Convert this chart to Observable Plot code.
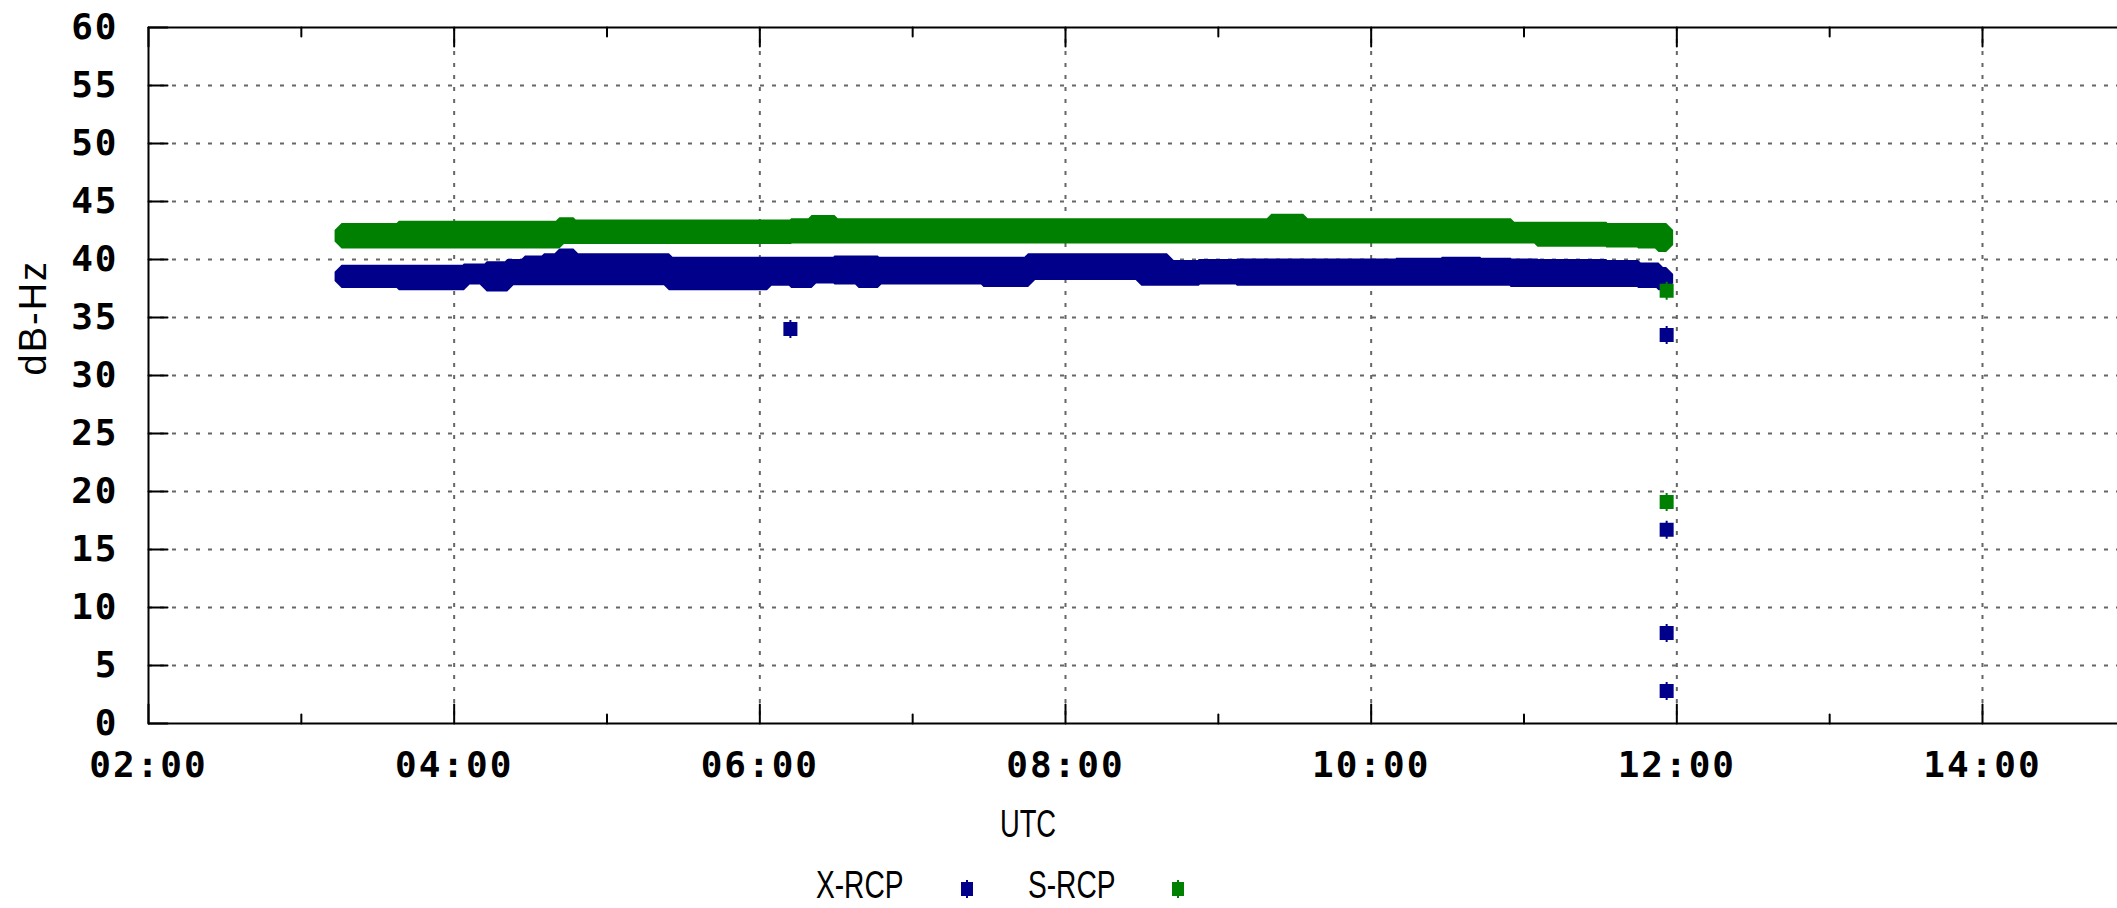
<!DOCTYPE html>
<html><head><meta charset="utf-8">
<script src="https://cdn.jsdelivr.net/npm/d3@7"></script>
<script src="https://cdn.jsdelivr.net/npm/@observablehq/plot@0.6"></script>
<style>
html,body{margin:0;padding:0;background:#fff;overflow:hidden;}
#wrap{position:relative;width:2117px;height:908px;}
#chart svg text{letter-spacing:2px;}
.lbl{position:absolute;font-family:"Liberation Sans",Arial,sans-serif;font-size:38px;line-height:38px;color:#000;white-space:nowrap;}
.sw{position:absolute;}
</style></head><body>
<div id="wrap">
  <div id="chart"></div>
  <div class="lbl" style="left:1028px;top:805px;transform:translateX(-50%) scaleX(0.72);">UTC</div>
  <div class="lbl" style="left:816px;top:866px;transform-origin:left center;transform:scaleX(0.74);">X-RCP</div>
  <svg class="sw" style="left:961px;top:880px" width="12" height="18"><rect x="0" y="2" width="12" height="14" fill="#00008b"/><rect x="5" y="0" width="2" height="18" fill="#00008b"/></svg>
  <div class="lbl" style="left:1028px;top:866px;transform-origin:left center;transform:scaleX(0.74);">S-RCP</div>
  <svg class="sw" style="left:1172px;top:880px" width="12" height="18"><rect x="0" y="2" width="12" height="14" fill="#008000"/><rect x="5" y="0" width="2" height="18" fill="#008000"/></svg>
</div>
<script>
// ---- data ----
const times = ["03:16","03:30","03:47","04:00","04:08","04:18","04:24","04:32","04:39","04:44","04:50","05:00","05:18","05:31","05:45","05:58","06:08","06:17","06:24","06:35","06:43","06:50","07:05","07:20","07:36","07:55","08:10","08:25","08:35","08:45","09:00","09:15","09:27","09:40","10:00","10:20","10:36","10:50","11:00","11:11","11:25","11:40","11:50","11:56"];
// X-RCP band: lowest / highest readings
const xLo = [38.1,38.1,37.9,37.9,38.4,37.8,38.35,38.35,38.35,38.35,38.35,38.35,38.35,37.9,37.9,37.9,38.3,38.1,38.5,38.4,38.1,38.4,38.4,38.4,38.2,38.8,38.8,38.8,38.3,38.3,38.4,38.3,38.3,38.3,38.3,38.3,38.3,38.3,38.2,38.2,38.2,38.2,38.1,37.9];
const xHi = [38.9,38.9,38.9,38.9,39.0,39.2,39.4,39.7,39.9,40.3,39.9,39.9,39.9,39.6,39.6,39.6,39.6,39.6,39.6,39.7,39.7,39.6,39.6,39.6,39.6,39.9,39.9,39.9,39.9,39.3,39.4,39.45,39.45,39.45,39.45,39.5,39.6,39.5,39.45,39.4,39.4,39.3,39.1,38.7];
// S-RCP band: lowest / highest readings
const sLo = [41.5,41.5,41.5,41.5,41.5,41.5,41.5,41.5,41.5,41.9,41.9,41.9,41.9,41.9,41.9,41.9,41.9,41.95,41.95,41.95,41.95,41.95,41.95,41.95,41.95,41.95,41.95,41.95,41.95,41.95,41.95,41.95,41.95,41.95,41.95,41.95,41.95,41.95,41.95,41.65,41.65,41.6,41.5,41.2];
const sHi = [42.5,42.5,42.7,42.7,42.7,42.7,42.7,42.7,42.7,43.0,42.8,42.8,42.8,42.8,42.8,42.8,42.8,42.9,43.2,42.9,42.9,42.9,42.9,42.9,42.9,42.9,42.9,42.9,42.9,42.9,42.9,42.9,43.3,42.9,42.9,42.9,42.9,42.9,42.6,42.6,42.6,42.5,42.5,42.5];
// isolated readings
const xOutT = ["06:12","11:56","11:56","11:56","11:56"];
const xOutV = [34.0,33.5,16.7,7.8,2.8];
const sOutT = ["11:56","11:56"];
const sOutV = [37.3,19.1];
// axes
const yTicks = [0,5,10,15,20,25,30,35,40,45,50,55,60];
const yGrid = [5,10,15,20,25,30,35,40,45,50,55];
const xTickLabels = ["02:00","04:00","06:00","08:00","10:00","12:00","14:00"];
const xGridLabels = ["04:00","06:00","08:00","10:00","12:00","14:00"];
const xMinorLabels = ["03:00","05:00","07:00","09:00","11:00","13:00"];
const xDomainLabels = ["02:00","14:53"];
const colors = {"X-RCP": "#00008b", "S-RCP": "#008000"};

const T = s => { const [h, m] = s.split(":").map(Number); return new Date(Date.UTC(2000, 0, 1, h, m)); };
const band = times.map((t, i) => ({t: T(t), xLo: xLo[i], xHi: xHi[i], sLo: sLo[i], sHi: sHi[i]}));
const xOut = xOutT.map((t, i) => ({t: T(t), v: xOutV[i]}));
const sOut = sOutT.map((t, i) => ({t: T(t), v: sOutV[i]}));
const xTicksMajor = xTickLabels.map(T);
const xTicksMinor = xMinorLabels.map(T);
const x0 = T(xDomainLabels[0]);

const line = {draw(c, l) { c.moveTo(0, 0); c.lineTo(0, -l); }};
const marker = {draw(c, size) { const s = Math.sqrt(size) / 2; c.rect(-s, -s, 2 * s, 2 * s); c.rect(-1, -s - 2, 2, 2 * s + 4); }};
const gridStyle = {stroke: "#666", strokeWidth: 2, strokeDasharray: "4,8"};
const tickStyle = {stroke: "#000", strokeWidth: 2, anchor: "start", shape: line};

const chart = Plot.plot({
  width: 2117, height: 790,
  marginLeft: 148, marginRight: 0, marginTop: 27, marginBottom: 67,
  style: {fontFamily: "DejaVu Sans Mono", fontSize: "36px", background: "#fff", color: "#000", overflow: "visible"},
  x: {type: "utc", domain: xDomainLabels.map(T)},
  y: {domain: [yTicks[0], yTicks[yTicks.length - 1]]},
  marks: [
    Plot.ruleY(yGrid, gridStyle),
    Plot.ruleX(xGridLabels.map(T), gridStyle),
    Plot.areaY(band, {x: "t", y1: "xLo", y2: "xHi", curve: "step", fill: colors["X-RCP"], stroke: colors["X-RCP"], strokeWidth: 14, strokeLinejoin: "miter"}),
    Plot.dot(xOut, {x: "t", y: "v", symbol: marker, r: 7.9, fill: colors["X-RCP"], stroke: "none"}),
    Plot.areaY(band, {x: "t", y1: "sLo", y2: "sHi", curve: "step", fill: colors["S-RCP"], stroke: colors["S-RCP"], strokeWidth: 14, strokeLinejoin: "miter"}),
    Plot.dot(sOut, {x: "t", y: "v", symbol: marker, r: 7.9, fill: colors["S-RCP"], stroke: "none"}),
    // frame
    Plot.ruleX([x0], {stroke: "#000", strokeWidth: 2}),
    Plot.ruleY([yTicks[0]], {stroke: "#000", strokeWidth: 2}),
    Plot.ruleY([yTicks[yTicks.length - 1]], {stroke: "#000", strokeWidth: 2}),
    // inward ticks
    Plot.vector(yTicks, {x: () => x0, y: d => d, length: 19, rotate: 90, ...tickStyle}),
    Plot.vector(xTicksMajor, {x: d => d, y: () => yTicks[0], length: 19, rotate: 0, ...tickStyle}),
    Plot.vector(xTicksMinor, {x: d => d, y: () => yTicks[0], length: 9, rotate: 0, ...tickStyle}),
    Plot.vector(xTicksMajor, {x: d => d, y: () => yTicks[yTicks.length - 1], length: 19, rotate: 180, ...tickStyle}),
    Plot.vector(xTicksMinor, {x: d => d, y: () => yTicks[yTicks.length - 1], length: 9, rotate: 180, ...tickStyle}),
    // tick labels
    Plot.axisY({ticks: yTicks, tickSize: 0, tickPadding: 30, fontWeight: "bold", label: null}),
    Plot.axisX({ticks: xTicksMajor, tickFormat: "%H:%M", tickSize: 0, tickPadding: 28, fontWeight: "bold", label: null}),
    Plot.text(["dB-Hz"], {frameAnchor: "left", dx: -115, rotate: -90, fontFamily: "Liberation Sans", fontSize: 38, fill: "#000"})
  ]
});
document.getElementById("chart").appendChild(chart);
</script>
</body></html>
